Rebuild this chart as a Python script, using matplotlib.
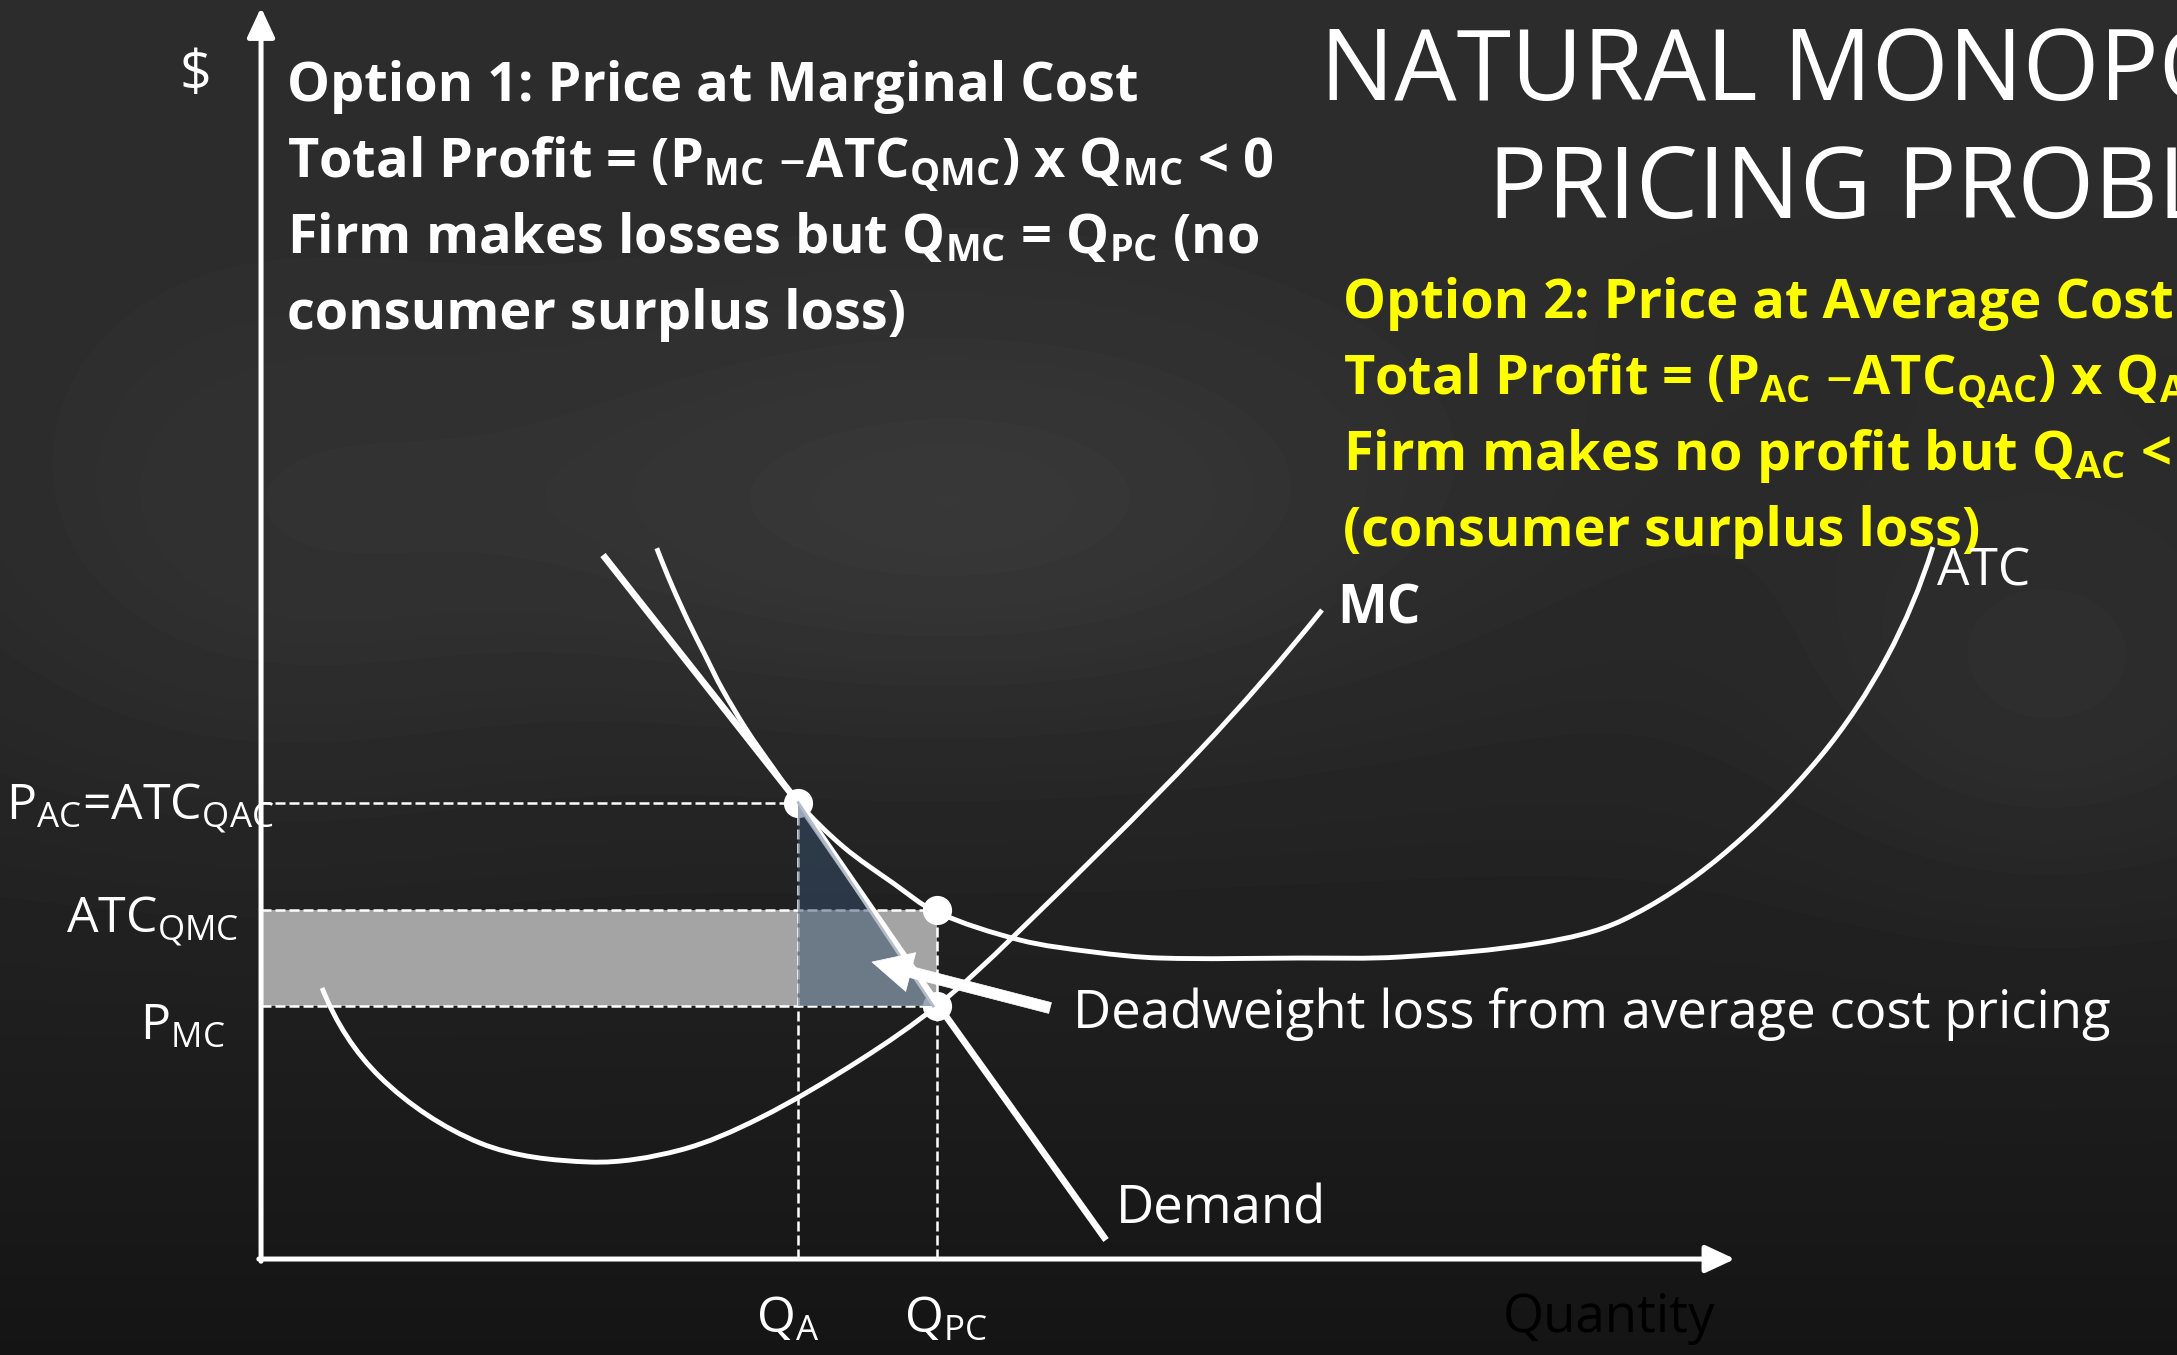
import numpy as np
import matplotlib
matplotlib.use("Agg")
import matplotlib.pyplot as plt
import matplotlib.transforms as mtransforms
from matplotlib.path import Path
from matplotlib.patches import PathPatch, Polygon, Rectangle

# ---------------- data (quantity / price units) ----------------
q_demand = [23.20, 36.45, 45.93, 57.33]
p_demand = [47.76, 30.96, 17.23, 1.29]

q_atc = [26.85, 27.86, 28.99, 30.12, 31.26, 32.95, 34.76, 36.45, 39.50, 42.90, 45.79,
         51.49, 56.45, 60.99, 70.49, 77.27, 86.77, 92.40, 98.98,
         105.77, 110.31, 113.43]
p_atc = [48.22, 45.73, 43.24, 40.98, 38.72, 35.89, 33.29, 30.96, 27.97, 25.49, 23.56,
         21.64, 20.83, 20.42, 20.42, 20.49, 21.44, 23.00, 27.27,
         34.06, 40.84, 48.30]

q_mc = [4.14, 8.07, 14.86, 22.32, 28.43, 33.85, 40.64, 45.93, 51.02,
        63.70, 71.98]
p_mc = [18.39, 12.35, 7.87, 6.58, 7.39, 9.57, 13.50, 17.23, 21.85,
        34.53, 44.03]

Q_A, Q_PC = 36.45, 45.85
P_AC, ATC_QMC, P_MC = 30.96, 23.68, 17.16
Q_MAX, P_MAX = 100.0, 84.9

dwl_arrow_tail = (53.53, 17.03)
dwl_arrow_tip = (41.45, 20.15)

title_lines = ["NATURAL MONOPOLY", "PRICING PROBLEM"]
option1_lines = [
    "Option 1: Price at Marginal Cost",
    r"Total Profit = (P$_{\mathregular{MC}}$ –ATC$_{\mathregular{QMC}}$) x Q$_{\mathregular{MC}}$ < 0",
    r"Firm makes losses but Q$_{\mathregular{MC}}$ = Q$_{\mathregular{PC}}$ (no",
    "consumer surplus loss)",
]
option2_lines = [
    "Option 2: Price at Average Cost",
    r"Total Profit = (P$_{\mathregular{AC}}$ –ATC$_{\mathregular{QAC}}$) x Q$_{\mathregular{AC}}$ = 0",
    r"Firm makes no profit but Q$_{\mathregular{AC}}$ < Q$_{\mathregular{PC}}$",
    "(consumer surplus loss)",
]
price_labels = [r"P$_{\mathregular{AC}}$=ATC$_{\mathregular{QAC}}$",
                r"ATC$_{\mathregular{QMC}}$",
                r"P$_{\mathregular{MC}}$"]
qty_labels = [r"Q$_{\mathregular{A}}$", r"Q$_{\mathregular{PC}}$"]
axis_labels = [r"\$", "Quantity"]
curve_labels = ["MC", "ATC", "Demand"]
dwl_label = "Deadweight loss from average cost pricing"

# ---------------- figure ----------------
W, H, DPI = 2177, 1355, 100
FONT = ["Open Sans", "DejaVu Sans"]
plt.rcParams["font.family"] = FONT

fig = plt.figure(figsize=(W / DPI, H / DPI), dpi=DPI)
fig.patch.set_facecolor("#1f1f1f")
ax = fig.add_axes([0, 0, 1, 1])
XL = (-17.71, 129.99)
YL = (-6.51, 85.41)
ax.set_xlim(*XL)
ax.set_ylim(*YL)
ax.axis("off")

# chalkboard-like smooth background
yy, xx = np.mgrid[0:H:4, 0:W:4].astype(float)
bg = 0.175 - 0.095 * (yy / H) ** 1.8
bg += 0.060 * np.exp(-(((xx - 950) / 480) ** 2 + ((yy - 520) / 210) ** 2))
bg += 0.030 * np.exp(-(((xx - 250) / 300) ** 2 + ((yy - 560) / 260) ** 2))
bg += 0.035 * np.exp(-(((xx - 2050) / 250) ** 2 + ((yy - 700) / 200) ** 2))
bg = np.clip(bg, 0, 1)
ax.imshow(bg, extent=[XL[0], XL[1], YL[0], YL[1]], origin="upper", cmap="gray",
          vmin=0, vmax=1, aspect="auto", zorder=0, interpolation="bilinear")


def smooth_path(xs, ys):
    """Chord-length Catmull-Rom curve through the given points, as Bezier segments."""
    pts = np.column_stack([xs, ys]).astype(float)
    n = len(pts)
    t = np.concatenate([[0.0], np.cumsum(np.hypot(*np.diff(pts, axis=0).T))])
    tang = np.zeros_like(pts)
    for i in range(1, n - 1):
        tang[i] = (pts[i + 1] - pts[i - 1]) / (t[i + 1] - t[i - 1])
    tang[0] = 2 * (pts[1] - pts[0]) / (t[1] - t[0]) - tang[1]
    tang[-1] = 2 * (pts[-1] - pts[-2]) / (t[-1] - t[-2]) - tang[-2]
    verts = [pts[0]]
    codes = [Path.MOVETO]
    for i in range(n - 1):
        d = (t[i + 1] - t[i]) / 3.0
        verts += [pts[i] + tang[i] * d, pts[i + 1] - tang[i + 1] * d, pts[i + 1]]
        codes += [Path.CURVE4] * 3
    return Path(verts, codes)


# profit/loss rectangle
ax.add_patch(Rectangle((0, P_MC), Q_PC, ATC_QMC - P_MC, fc="#a4a4a4", ec="none", zorder=1))

# dashed guide lines
dash_kw = dict(color="white", lw=1.8, dashes=(4, 1.6), zorder=2, solid_capstyle="butt")
ax.plot([0, Q_A], [P_AC, P_AC], **dash_kw)
ax.plot([0, Q_PC], [ATC_QMC, ATC_QMC], **dash_kw)
ax.plot([0, Q_PC], [P_MC, P_MC], **dash_kw)
ax.plot([Q_A, Q_A], [0, P_AC], **dash_kw)
ax.plot([Q_PC, Q_PC], [0, ATC_QMC], **dash_kw)

# curves
ax.add_patch(PathPatch(smooth_path(q_atc, p_atc), fill=False, ec="white", lw=3.5,
                       zorder=3, capstyle="butt"))
ax.add_patch(PathPatch(smooth_path(q_mc, p_mc), fill=False, ec="white", lw=3.5,
                       zorder=3, capstyle="butt"))
ax.plot(q_demand, p_demand, color="white", lw=4.8, zorder=3, solid_capstyle="butt",
        solid_joinstyle="round")

# axes with arrow heads
ax_kw = dict(arrowstyle="-|>,head_length=0.9,head_width=0.42", color="white", lw=3.6,
             shrinkA=0, shrinkB=0, mutation_scale=20)
ax.annotate("", xy=(0, P_MAX), xytext=(0, -0.15), arrowprops=ax_kw, zorder=3)
ax.annotate("", xy=(Q_MAX, 0), xytext=(-0.15, 0), arrowprops=ax_kw, zorder=3)

# points
ax.plot([Q_A, Q_PC, Q_PC], [P_AC, ATC_QMC, P_MC], "o", color="white", ms=20,
        mec="white", zorder=4)

# deadweight loss triangle
ax.add_patch(Polygon([(Q_A, P_AC), (Q_A, P_MC), (Q_PC - 0.25, P_MC)], closed=True,
                     fc=(54 / 255, 79 / 255, 108 / 255, 0.5), ec="none", zorder=5))
ax.plot([Q_A, Q_PC - 0.25], [P_AC, P_MC], color="#b3bcc8", lw=2.0, zorder=5)

# arrow pointing at the deadweight loss
ax.annotate("", xy=dwl_arrow_tip, xytext=dwl_arrow_tail,
            arrowprops=dict(arrowstyle="simple,head_length=1.8,head_width=1.8,tail_width=0.5",
                            fc="white", ec="white", lw=0.5, shrinkA=0, shrinkB=0,
                            mutation_scale=16), zorder=6)

# ---------------- text (positions in pixels from the top-left) ----------------
tpx = mtransforms.Affine2D().scale(1.0 / W, -1.0 / H).translate(0, 1) + fig.transFigure


def put(x, y, s, size, weight="normal", color="white", ha="left", va="baseline"):
    return fig.text(x, y, s, transform=tpx, fontsize=size, fontweight=weight,
                    color=color, ha=ha, va=va, family=FONT, zorder=10)


# title
put(1320, 100, title_lines[0], 71)
put(1488, 218, title_lines[1], 71)

# option blocks
for i, s in enumerate(option1_lines):
    put(287, 101 + 76 * i, s, 39, weight="bold")
for i, s in enumerate(option2_lines):
    put(1343, 318 + 76 * i, s, 39, weight="bold", color="#ffff00")

# price labels on the left
put(6, 819, price_labels[0], 36)
put(66, 932, price_labels[1], 36)
put(140, 1040, price_labels[2], 36)

# quantity labels
put(756, 1333, qty_labels[0], 36)
put(904, 1333, qty_labels[1], 36)

# axis labels
put(195, 76, axis_labels[0], 40, ha="center", va="center")
put(1503, 1332, axis_labels[1], 38, color="black")

# curve labels
put(1337, 623, curve_labels[0], 38, weight="bold")
put(1937, 585, curve_labels[1], 37)
put(1116, 1223, curve_labels[2], 38)
put(1073, 1028, dwl_label, 38)

fig.savefig("out.png", dpi=DPI, facecolor=fig.get_facecolor())
